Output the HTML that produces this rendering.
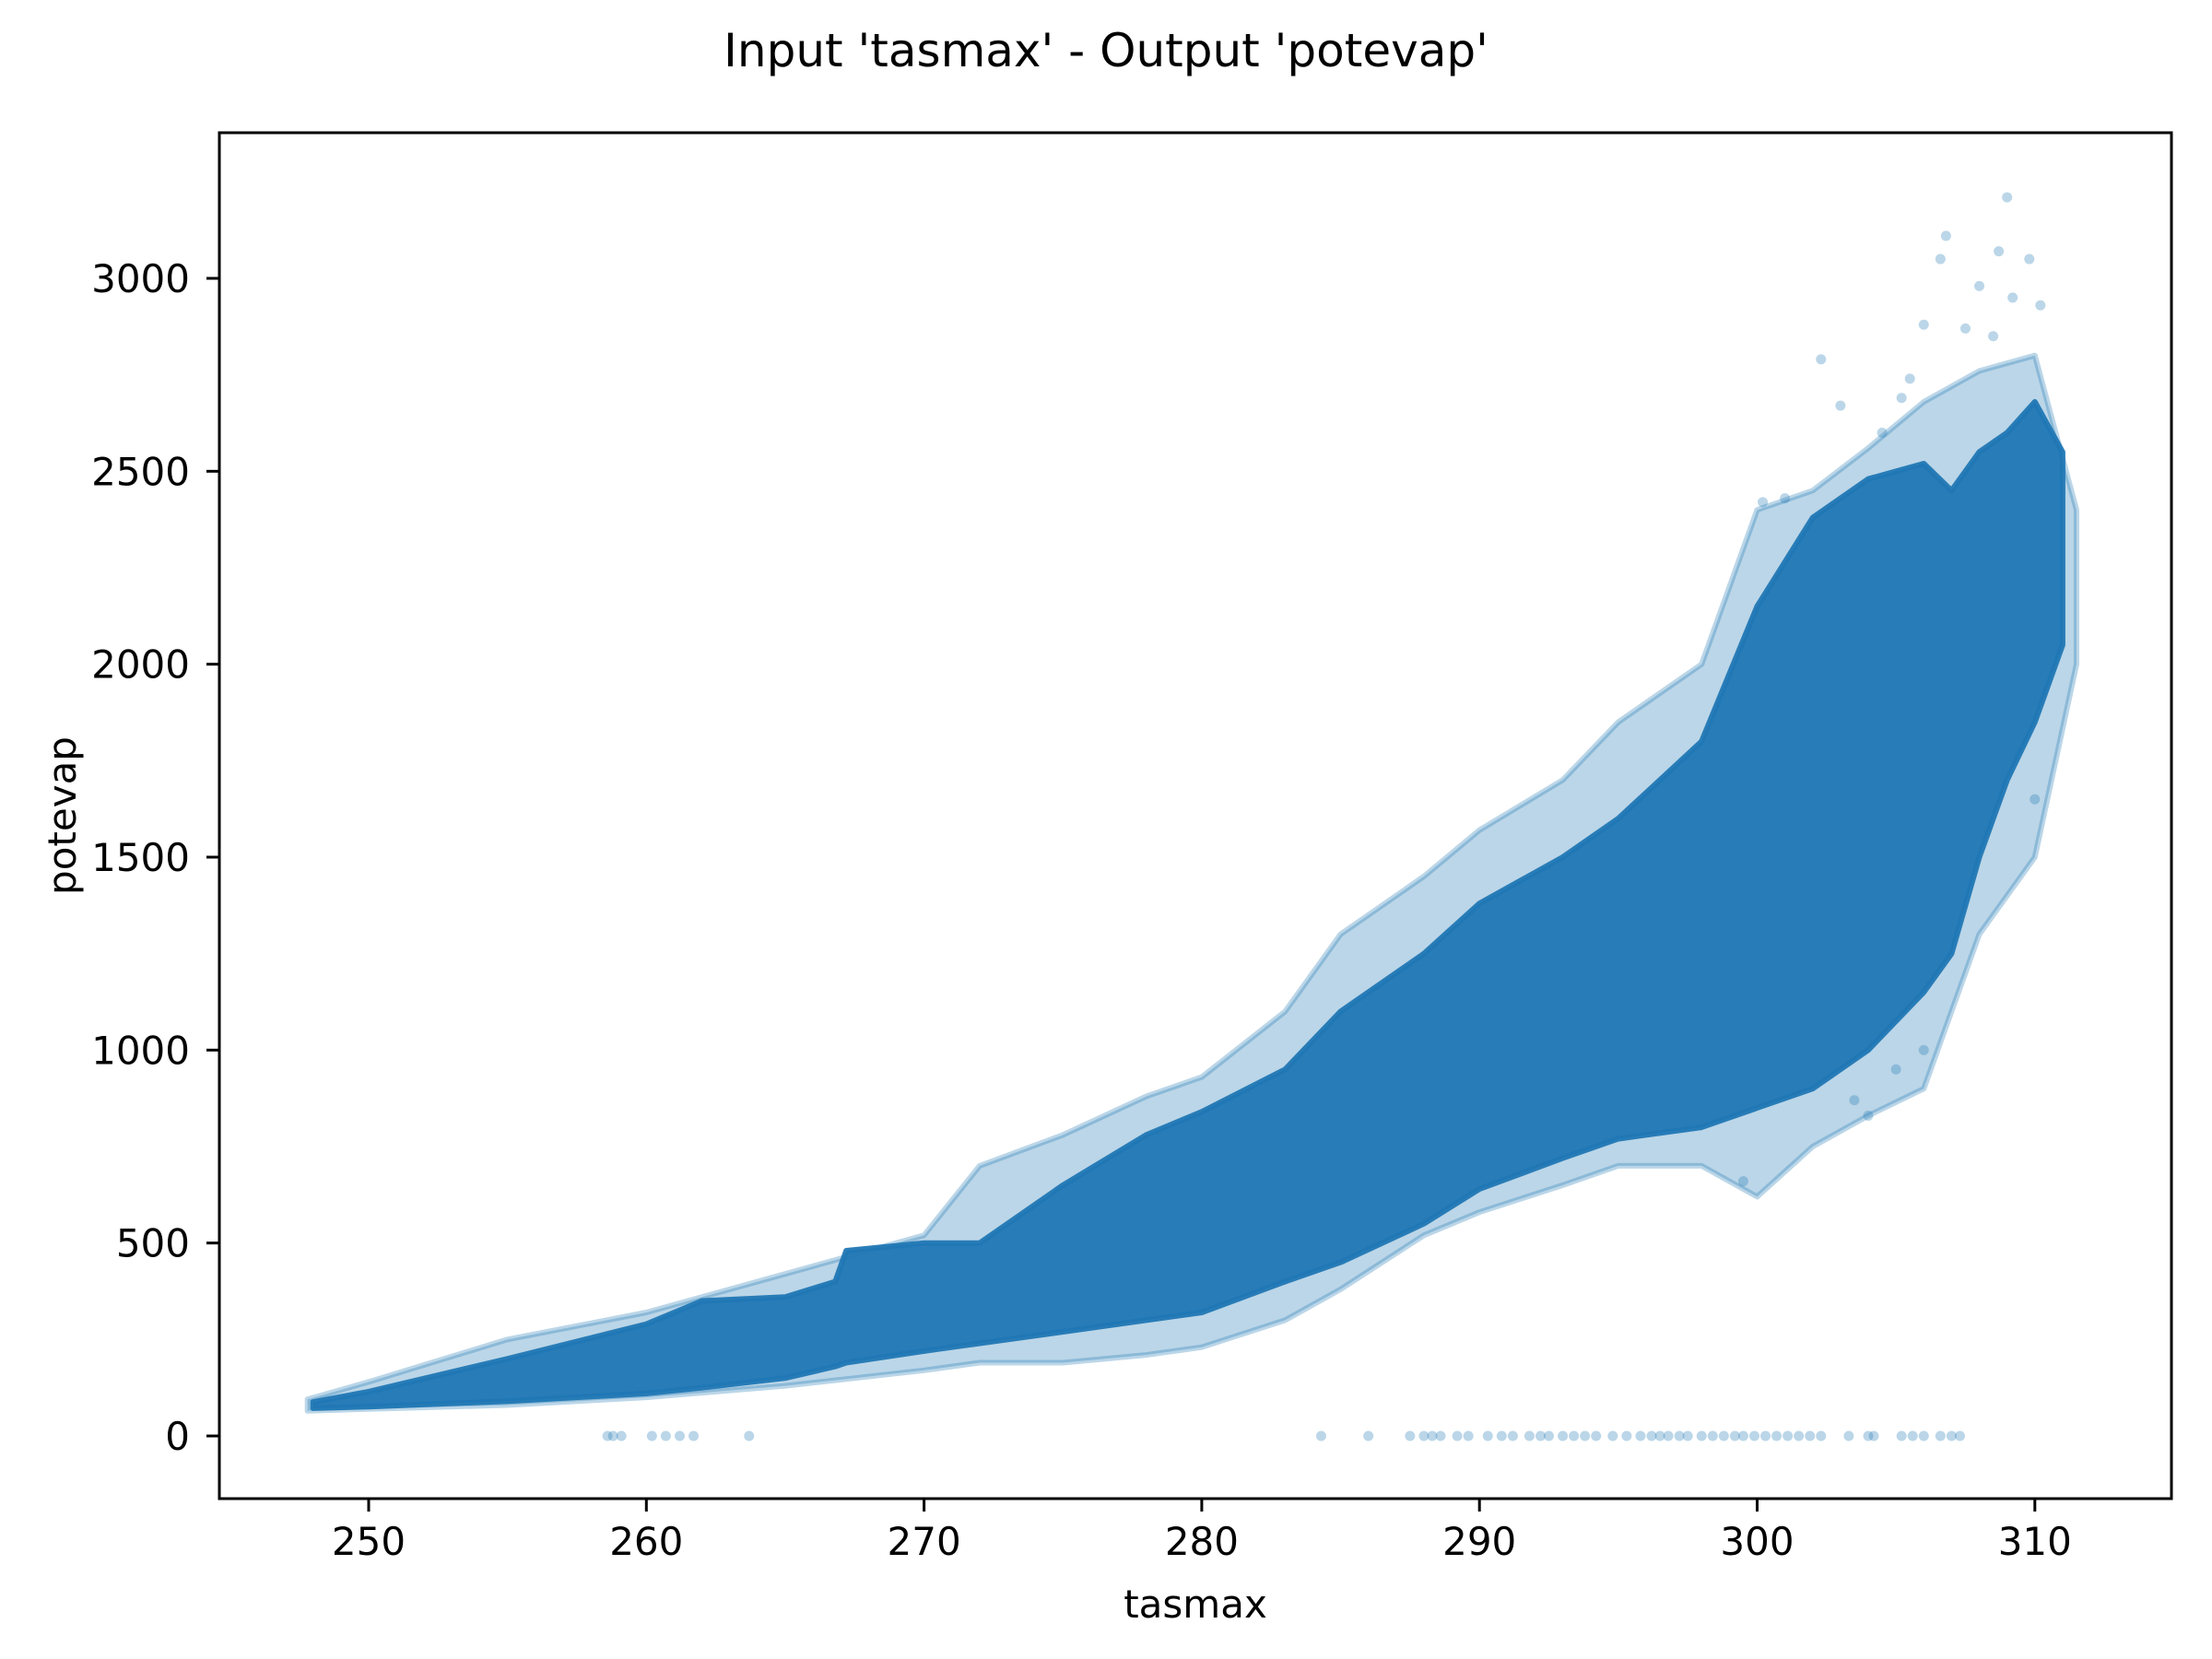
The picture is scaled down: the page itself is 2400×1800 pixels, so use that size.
<!DOCTYPE html>
<html><head><meta charset="utf-8"><title>tasmax vs potevap</title>
<style>
html,body{margin:0;padding:0;background:#fff;}
svg{display:block;font-family:"DejaVu Sans","Liberation Sans",sans-serif;}
</style></head>
<body>
<svg id="chart" width="2400" height="1800" viewBox="0 0 2400 1800" xmlns="http://www.w3.org/2000/svg">
<rect width="2400" height="1800" fill="#fff"/>
<text x="1200" y="72" text-anchor="middle" font-size="50" fill="#000">Input 'tasmax' - Output 'potevap'</text>
<g id="light"></g>
<g id="core"></g>
<g id="pts"></g>
<g id="axes"></g>
<text x="1297" y="1755" text-anchor="middle" font-size="42" fill="#000">tasmax</text>
<text x="0" y="0" transform="translate(82,885) rotate(-90)" text-anchor="middle" font-size="42" fill="#000">potevap</text>
</svg>
<script>
const xTicks = [250, 260, 270, 280, 290, 300, 310];
const yTicks = [0, 500, 1000, 1500, 2000, 2500, 3000];
// dense core band
const coreX =   [248, 250, 255, 260, 262, 265, 266.8, 267.2, 270, 272, 275, 278, 280, 283, 285, 288, 290, 293, 295, 298, 300, 302, 304, 306, 307, 308, 309, 310, 311];
const coreLow = [72,  76,  90,  110, 125, 150, 180,   190,   220, 240, 270, 300, 320, 400, 450, 550, 640, 720, 770, 800, 850, 900, 1000,1150,1250,1500,1700,1850,2050];
const coreHigh= [88,  115, 200, 290, 350, 360, 400,   480,   500, 500, 650, 780, 840, 950, 1100,1250,1380,1500,1600,1800,2150,2380,2480,2520,2450,2550,2600,2680,2550];
// sparse outer band
const lightX =   [247.8, 250, 255, 260, 265, 270, 272, 275, 278, 280, 283, 285, 288, 290, 293, 295, 298, 300, 302, 304, 306, 308, 310, 311.5];
const lightLow = [65,    70,  80,  100, 130, 170, 190, 190, 210, 230, 300, 380, 520, 580, 650, 700, 700, 620, 750, 830, 900, 1300,1500,2000];
const lightHigh= [95,    140, 250, 320, 420, 520, 700, 780, 880, 930, 1100,1300,1450,1570,1700,1850,2000,2400,2450,2560,2680,2760,2800,2400];
// isolated points
const zeroX = [258.6,258.8,259.1,260.2,260.7,261.2,261.7,263.7,284.3,286,287.5,288,288.3,288.6,289.2,289.6,290.3,290.8,291.2,291.8,292.2,292.5,293,293.4,293.8,294.2,294.8,295.3,295.8,296.2,296.5,296.8,297.2,297.5,298,298.4,298.8,299.2,299.5,299.9,300.3,300.7,301.1,301.5,301.9,302.3,303.3,304,304.2,305.2,305.6,306,306.6,307,307.3];
const outX = [309,308.7,306.8,306.6,308,309.2,302.3,303,306,305.5,301,300.2,309.8,310.2,308.5,307.5,299.5,304,305,306,303.5,310,305.2,304.5];
const outY = [3210,3070,3110,3050,2980,2950,2790,2670,2880,2740,2430,2420,3050,2930,2850,2870,660,830,950,1000,870,1650,2690,2600];

const X = v => 400 + (v - 250) * 30.13;
const Y = v => 1558 - v * 0.41867;
const NS = 'http://www.w3.org/2000/svg';
function mk(tag, parent){ const e = document.createElementNS(NS, tag); parent.appendChild(e); return e; }
function band(xs, lo, hi, parent, fill, op){
  const pts = [];
  xs.forEach((x,i)=>pts.push(X(x).toFixed(1)+','+Y(hi[i]).toFixed(1)));
  for(let i=xs.length-1;i>=0;i--) pts.push(X(xs[i]).toFixed(1)+','+Y(lo[i]).toFixed(1));
  const p = mk('polygon', parent);
  p.setAttribute('points', pts.join(' '));
  p.setAttribute('fill', fill);
  p.setAttribute('fill-opacity', op);
  p.setAttribute('stroke', fill);
  p.setAttribute('stroke-opacity', op);
  p.setAttribute('stroke-width', '6');
  p.setAttribute('stroke-linejoin', 'round');
  return p;
}
const lp = band(lightX, lightLow, lightHigh, document.getElementById('light'), '#1f77b4', 0.3);


const cp = band(coreX, coreLow, coreHigh, document.getElementById('core'), '#2077b4', 0.95);



const pg = document.getElementById('pts');
zeroX.forEach(x=>{
  const c = mk('circle', pg);
  c.setAttribute('cx', X(x)); c.setAttribute('cy', Y(0)); c.setAttribute('r', 5.5);
  c.setAttribute('fill', '#1f77b4'); c.setAttribute('fill-opacity', 0.3);
  
  
});
outX.forEach((x,i)=>{
  const c = mk('circle', pg);
  c.setAttribute('cx', X(x)); c.setAttribute('cy', Y(outY[i])); c.setAttribute('r', 5.5);
  c.setAttribute('fill', '#1f77b4'); c.setAttribute('fill-opacity', 0.3);
  
  
});

const ax = document.getElementById('axes');
const frame = mk('rect', ax);
frame.setAttribute('x', 238); frame.setAttribute('y', 144);
frame.setAttribute('width', 2118); frame.setAttribute('height', 1482);
frame.setAttribute('fill', 'none'); frame.setAttribute('stroke', '#000'); frame.setAttribute('stroke-width', 3);


xTicks.forEach(t=>{
  const l = mk('line', ax);
  l.setAttribute('x1', X(t)); l.setAttribute('x2', X(t)); l.setAttribute('y1', 1626); l.setAttribute('y2', 1640);
  l.setAttribute('stroke', '#000'); l.setAttribute('stroke-width', 3);
  
  
  const tx = mk('text', ax);
  tx.setAttribute('x', X(t)); tx.setAttribute('y', 1687); tx.setAttribute('text-anchor', 'middle'); tx.setAttribute('font-size', 42);
  tx.textContent = t;
  
  
});
yTicks.forEach(t=>{
  const l = mk('line', ax);
  l.setAttribute('x1', 224); l.setAttribute('x2', 238); l.setAttribute('y1', Y(t)); l.setAttribute('y2', Y(t));
  l.setAttribute('stroke', '#000'); l.setAttribute('stroke-width', 3);
  
  
  const tx = mk('text', ax);
  tx.setAttribute('x', 206); tx.setAttribute('y', Y(t) + 15); tx.setAttribute('text-anchor', 'end'); tx.setAttribute('font-size', 42);
  tx.textContent = t;
  
  
});
</script>
</body></html>
